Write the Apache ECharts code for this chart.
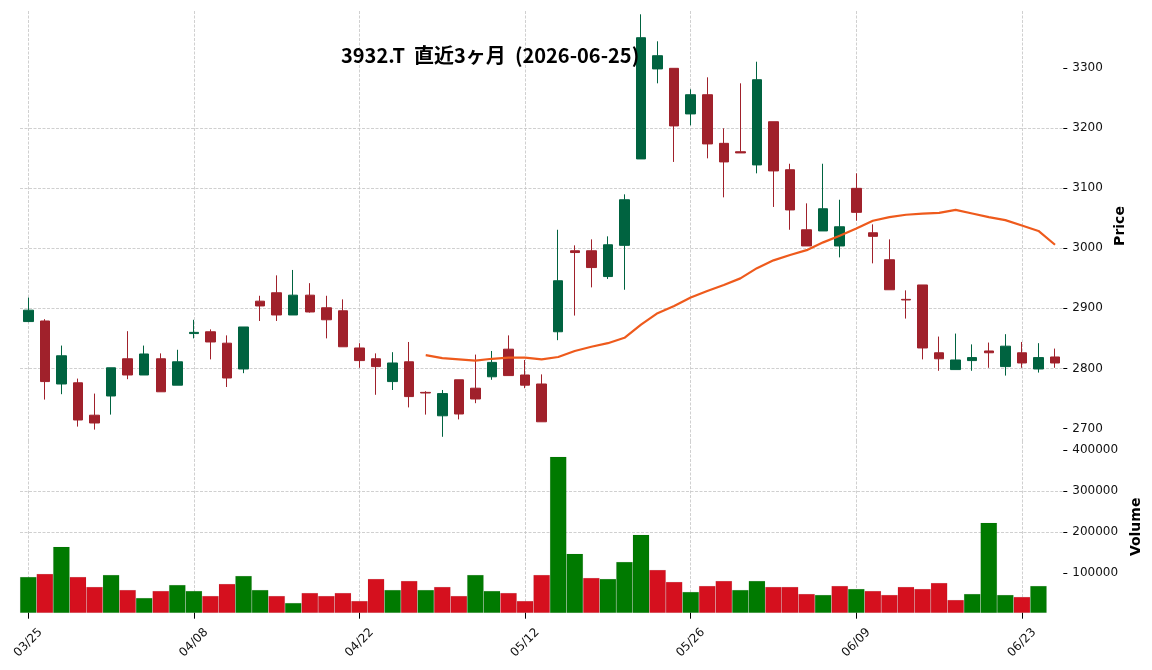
<!DOCTYPE html>
<html>
<head>
<meta charset="utf-8">
<title>3932.T 直近3ヶ月</title>
<script src="https://cdn.jsdelivr.net/npm/echarts@6/dist/echarts.min.js"></script>
<style>
html, body { margin: 0; padding: 0; background: #fff; }
#main { width: 1152px; height: 670px; }
</style>
</head>
<body>
<div id="main"></div>
<script>
/* データ */
var dates = [
	'03/25','03/26','03/27','03/30','03/31','04/01','04/02','04/03','04/06','04/07',
	'04/08','04/09','04/10','04/13','04/14','04/15','04/16','04/17','04/20','04/21',
	'04/22','04/23','04/24','04/27','04/28','04/30','05/01','05/07','05/08','05/11',
	'05/12','05/13','05/14','05/15','05/18','05/19','05/20','05/21','05/22','05/25',
	'05/26','05/27','05/28','05/29','06/01','06/02','06/03','06/04','06/05','06/08',
	'06/09','06/10','06/11','06/12','06/15','06/16','06/17','06/18','06/19','06/22',
	'06/23','06/24','06/25'
];
var opens = [
	2878,2879,2774,2776,2722,2754,2816,2789,2816,2772,
	2858,2861,2842,2799,2912,2926,2889,2922,2901,2896,
	2834,2816,2778,2811,2760,2721,2781,2767,2786,2832,
	2789,2774,2861,2996,2996,2953,3005,3149,3299,3300,
	3224,3256,3175,3161,3139,3211,3131,3031,3029,3004,
	3100,3026,2981,2915,2939,2826,2798,2813,2829,2803,
	2826,2799,2819
];
var highs = [
	2918,2882,2838,2783,2758,2801,2862,2838,2825,2831,
	2881,2865,2855,2869,2921,2955,2964,2942,2921,2915,
	2842,2825,2827,2844,2762,2764,2781,2823,2829,2855,
	2814,2790,3031,3005,3015,3020,3090,3390,3345,3300,
	3265,3285,3200,3275,3311,3211,3141,3075,3141,3081,
	3125,3040,3015,2930,2939,2853,2858,2840,2843,2857,
	2844,2842,2833
];
var lows = [
	2877,2748,2757,2703,2698,2723,2782,2789,2761,2772,
	2850,2815,2769,2792,2879,2879,2889,2893,2850,2836,
	2801,2756,2764,2735,2723,2686,2715,2742,2781,2788,
	2767,2711,2847,2888,2935,2949,2931,3149,3275,3144,
	3205,3150,3085,3159,3125,3069,3031,3004,3029,2985,
	3046,2975,2931,2883,2815,2796,2798,2796,2801,2788,
	2801,2793,2801
];
var closes = [
	2897,2778,2821,2714,2709,2801,2789,2824,2761,2811,
	2860,2844,2784,2869,2904,2889,2922,2894,2881,2836,
	2813,2803,2809,2753,2759,2758,2724,2749,2810,2788,
	2772,2711,2946,2993,2968,3006,3081,3351,3321,3204,
	3256,3174,3144,3159,3281,3129,3064,3004,3066,3036,
	3060,3020,2931,2914,2834,2816,2814,2818,2826,2837,
	2809,2818,2809
];
var volumes = [
	91000,98400,164200,91000,66700,95900,59300,39800,56900,71500,
	56900,44700,74000,93500,59300,44700,27600,52000,44700,52000,
	32500,86200,59300,81300,59300,66700,44700,95900,56900,52000,
	32500,95900,383700,147200,88600,86200,127600,193500,108100,78900,
	54500,69100,81300,59300,81300,66700,66700,49600,47200,69100,
	61800,56900,47200,66700,61800,76400,35000,49600,222800,47200,
	42300,69100,null
];
// 25日移動平均
var ma25 = [
	null,null,null,null,null,null,null,null,null,null,
	null,null,null,null,null,null,null,null,null,null,
	null,null,null,null,2822,2817,2815,2813,2816,2818,
	2818,2815,2819,2829,2836,2842,2851,2873,2892,2904,
	2918,2929,2939,2950,2967,2980,2989,2997,3010,3021,
	3033,3046,3052,3056,3058,3059,3064,3058,3052,3047,
	3038,3029,3006
];
var priceTicks = [2700, 2800, 2900, 3000, 3100, 3200, 3300];
var volumeTicks = [100000, 200000, 300000, 400000];
var titleText = '3932.T  直近3ヶ月  (2026-06-25)';

/* 色・スタイル */
var upColor = '#006340';
var downColor = '#a0212b';
var volUpColor = '#007a00';
var volDownColor = '#d5101e';
var maColor = '#ee5a1c';
var gridStyle = { color: '#c4c4c4', type: [3, 1.5], width: 0.8 };
var labelFont = 'DejaVu Sans, sans-serif';

var candleData = [];
for (var i = 0; i < dates.length; i++) {
	candleData.push([opens[i], closes[i], lows[i], highs[i]]);
}
// 出来高の色は前日終値との比較
var volumeData = volumes.map(function(v, i){
	if (v == null) {
		return '-';
	}
	var up = (i == 0) || closes[i] >= closes[i - 1];
	return { value: v, itemStyle: { color: up ? volUpColor : volDownColor } };
});
var maData = ma25.map(function(v){ return v == null ? '-' : v; });

// 桁区切りなしで表示
function plainNumber(v){
	return String(v);
}

var vSplit = { show: true, interval: 9, alignWithLabel: true, lineStyle: gridStyle };
var hSplit = { show: true, showMinLine: false, showMaxLine: false, lineStyle: gridStyle };

var option = {
	animation: false,
	backgroundColor: '#fff',
	title: {
		text: titleText,
		left: 341,
		top: 45,
		padding: 0,
		textStyle: {
			fontFamily: 'Noto Sans CJK JP',
			fontWeight: 'bold',
			fontSize: 20,
			color: '#000'
		}
	},
	grid: [
		{ left: 20, width: 1043.3, top: 11, height: 430, containLabel: false, outerBoundsMode: 'none' },
		{ left: 20, width: 1043.3, top: 441, height: 171.7, containLabel: false, outerBoundsMode: 'none' }
	],
	xAxis: [
		{
			gridIndex: 0,
			type: 'category',
			data: dates,
			boundaryGap: true,
			axisLine: { show: false },
			axisTick: { show: false, interval: 9, alignWithLabel: true },
			axisLabel: { show: false, interval: 9 },
			splitLine: vSplit
		},
		{
			gridIndex: 1,
			type: 'category',
			data: dates,
			boundaryGap: true,
			axisLine: { show: false },
			axisTick: { show: true, interval: 9, alignWithLabel: true, length: 6, lineStyle: { color: '#000', width: 1 } },
			axisLabel: {
				interval: 9,
				rotate: 45,
				align: 'center',
				verticalAlign: 'middle',
				margin: 30,
				fontSize: 12,
				color: '#111',
				fontFamily: labelFont
			},
			splitLine: vSplit
		}
	],
	yAxis: [
		{
			gridIndex: 0,
			type: 'value',
			position: 'right',
			min: 2679,
			max: 3395.5,
			scale: true,
			axisLine: { show: false },
			axisTick: { show: true, length: 4, customValues: priceTicks, lineStyle: { color: '#000', width: 1 } },
			axisLabel: { customValues: priceTicks, formatter: plainNumber, fontSize: 12, color: '#111', fontFamily: labelFont, margin: 9 },
			splitLine: hSplit,
			name: 'Price',
			nameLocation: 'middle',
			nameRotate: 90,
			nameGap: 42,
			nameTextStyle: { fontFamily: labelFont, fontWeight: 'bold', fontSize: 14, color: '#000' }
		},
		{
			gridIndex: 1,
			type: 'value',
			position: 'right',
			min: 3900,
			max: 422000,
			axisLine: { show: false },
			axisTick: { show: true, length: 4, customValues: volumeTicks, lineStyle: { color: '#000', width: 1 } },
			axisLabel: { customValues: volumeTicks, formatter: plainNumber, fontSize: 12, color: '#111', fontFamily: labelFont, margin: 9 },
			splitLine: hSplit,
			name: 'Volume',
			nameLocation: 'middle',
			nameRotate: 90,
			nameGap: 55,
			nameTextStyle: { fontFamily: labelFont, fontWeight: 'bold', fontSize: 14, color: '#000' }
		}
	],
	series: [
		{
			name: '3932.T',
			type: 'candlestick',
			xAxisIndex: 0,
			yAxisIndex: 0,
			data: candleData,
			barWidth: 10,
			itemStyle: {
				color: upColor,
				color0: downColor,
				borderColor: upColor,
				borderColor0: downColor,
				borderWidth: 1
			}
		},
		{
			name: 'MA25',
			type: 'line',
			xAxisIndex: 0,
			yAxisIndex: 0,
			data: maData,
			showSymbol: false,
			symbol: 'none',
			z: 3,
			lineStyle: { color: maColor, width: 2.2 }
		},
		{
			name: 'Volume',
			type: 'bar',
			xAxisIndex: 1,
			yAxisIndex: 1,
			data: volumeData,
			barWidth: '100%',
			barCategoryGap: 0,
			itemStyle: { borderColor: 'rgba(0,0,0,0.12)', borderWidth: 0.5 }
		}
	]
};

var chart = echarts.init(document.getElementById('main'), null, { renderer: 'canvas' });
chart.setOption(option);
window.onresize = function(){
	chart.resize();
};
</script>
</body>
</html>
